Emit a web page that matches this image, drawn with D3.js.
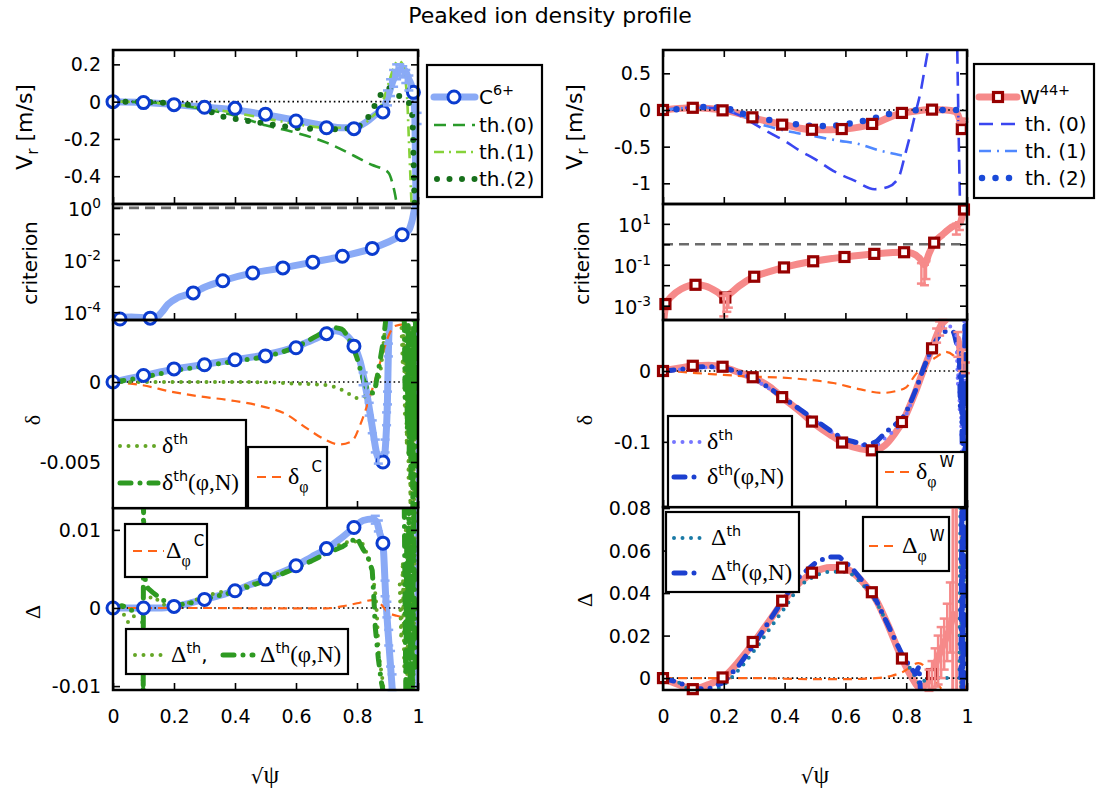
<!DOCTYPE html>
<html><head><meta charset="utf-8">
<script src="https://cdn.jsdelivr.net/npm/d3@7"></script>
<style>body{margin:0;background:#fff}svg{display:block}</style>
</head><body><svg id="c" width="1097" height="795"></svg>
<script>
// ---------------- DATA ----------------
const xTicks = [0, 0.2, 0.4, 0.6, 0.8, 1];
const xTickLabels = ["0", "0.2", "0.4", "0.6", "0.8", "1"];

// Left column: C6+
const cMarkX = [0, 0.1, 0.2, 0.3, 0.4, 0.5, 0.6, 0.7, 0.79, 0.885, 0.985];
const cVrMark = [0, -0.005, -0.016, -0.03, -0.036, -0.067, -0.104, -0.14, -0.145, -0.055, 0.05];
const cVrLine = [[0,0],[0.1,-0.004],[0.2,-0.015],[0.3,-0.03],[0.4,-0.045],[0.5,-0.07],[0.6,-0.1],[0.7,-0.13],[0.75,-0.14],[0.79,-0.14],[0.83,-0.11],[0.86,-0.07],[0.885,-0.04],[0.9,0.02],[0.92,0.12],[0.94,0.17],[0.955,0.17],[0.97,0.12],[0.985,0.05],[0.99,-0.1],[0.994,-0.6]];
const cVrErr = [[0.9,-0.02,0.06],[0.91,0.03,0.12],[0.92,0.08,0.17],[0.93,0.12,0.2],[0.94,0.14,0.2],[0.95,0.13,0.19],[0.96,0.1,0.17],[0.97,0.06,0.14],[0.997,-0.12,-0.06]];
const cVrTh0 = [[0,0],[0.1,-0.003],[0.2,-0.015],[0.3,-0.04],[0.4,-0.075],[0.5,-0.127],[0.6,-0.167],[0.7,-0.22],[0.79,-0.29],[0.85,-0.34],[0.883,-0.36],[0.905,-0.385],[0.915,-0.43],[0.925,-0.5],[0.935,-0.6]];
const cVrTh1 = [[0,0],[0.1,-0.003],[0.2,-0.015],[0.3,-0.035],[0.4,-0.06],[0.5,-0.09],[0.6,-0.12],[0.7,-0.14],[0.79,-0.14],[0.85,-0.08],[0.88,-0.02],[0.9,0.08],[0.92,0.18],[0.935,0.22],[0.95,0.2],[0.96,0.1],[0.965,0],[0.97,-0.2],[0.975,-0.4],[0.98,-0.6]];
const cVrTh2 = [[0,0],[0.05,0],[0.1,-0.002],[0.15,-0.005],[0.2,-0.01],[0.24,-0.015],[0.28,-0.035],[0.32,-0.055],[0.36,-0.08],[0.41,-0.095],[0.45,-0.105],[0.5,-0.118],[0.55,-0.13],[0.6,-0.14],[0.64,-0.145],[0.68,-0.148],[0.72,-0.148],[0.76,-0.145],[0.8,-0.135],[0.84,-0.075],[0.86,-0.015],[0.9,0.075],[0.935,0.033],[0.965,0.005],[0.98,-0.06],[0.984,-0.2],[0.986,-0.35],[0.988,-0.5],[0.989,-0.56]];

const cCritMarkX = [0.023, 0.122, 0.263, 0.36, 0.458, 0.557, 0.655, 0.752, 0.85, 0.948];
const cCritMark = [5.5e-5, 5.9e-5, 5.5e-4, 1.6e-3, 3.2e-3, 5.0e-3, 8.3e-3, 1.4e-2, 2.8e-2, 9.3e-2];
const cCritLine = [[0,6.2e-5],[0.06,6.6e-5],[0.122,6.0e-5],[0.14,6.2e-5],[0.16,1.0e-4],[0.18,2.0e-4],[0.21,3.5e-4],[0.24,4.6e-4],[0.263,5.5e-4],[0.3,9e-4],[0.36,1.6e-3],[0.458,3.2e-3],[0.557,5.0e-3],[0.655,8.3e-3],[0.752,1.4e-2],[0.85,2.8e-2],[0.948,9.3e-2],[0.97,0.14],[0.98,0.3],[0.99,1.0],[1.0,1.6]];
const cCritThreshold = 1;

const cDeltaMarkX = [0, 0.1, 0.2, 0.3, 0.4, 0.5, 0.6, 0.7, 0.79, 0.885];
const cDeltaMark = [0, 0.00041, 0.00082, 0.00108, 0.00139, 0.00163, 0.00214, 0.00302, 0.00224, -0.005];
const cDeltaLine = [[0,0],[0.05,0.0002],[0.1,0.0004],[0.2,0.0008],[0.3,0.0011],[0.4,0.0014],[0.5,0.0017],[0.6,0.0022],[0.65,0.0026],[0.7,0.003],[0.73,0.0032],[0.76,0.003],[0.79,0.0023],[0.81,0.0013],[0.83,-0.0005],[0.85,-0.0028],[0.865,-0.0045],[0.885,-0.0052],[0.895,-0.0035],[0.9,-0.001],[0.903,0.002],[0.906,0.0039]];
const cDeltaEdge = [[0.996,0.0039],[0.997,-0.002],[0.999,-0.008]];
const cDeltaErr = [[0.82,-0.0002,0.0006],[0.83,-0.0009,-0.0001],[0.84,-0.0021,-0.0013],[0.85,-0.0032,-0.0024],[0.86,-0.0044,-0.0036],[0.87,-0.0051,-0.0045],[0.892,-0.0044,-0.0036],[0.897,-0.0027,-0.0019],[0.9,-0.0014,-0.0006],[0.903,0.0016,0.0024]];
const cDeltaTh = [[0,0],[0.1,0],[0.2,0],[0.3,0],[0.4,0],[0.5,-0.00002],[0.6,-0.0001],[0.7,-0.0002],[0.74,-0.0004],[0.77,-0.0007],[0.8,-0.001],[0.836,-0.0008],[0.86,-0.0003],[0.877,0.0007],[0.888,0.0026],[0.895,0.004]];
const cDeltaThN = [[0,0],[0.1,0.0003],[0.2,0.0007],[0.3,0.001],[0.4,0.0013],[0.5,0.0016],[0.6,0.0022],[0.67,0.0029],[0.72,0.0034],[0.75,0.0033],[0.77,0.0028],[0.8,0.0015],[0.82,0.0002],[0.84,-0.0006],[0.855,-0.0007],[0.865,0.0002],[0.877,0.0015],[0.889,0.003],[0.895,0.004]];
const cDeltaThNoise = [[0.945,0.0039],[0.95,0.001],[0.953,0.0039],[0.957,-0.002],[0.96,0.003],[0.963,-0.004],[0.966,0.002],[0.969,-0.006],[0.972,0.001],[0.975,-0.008],[0.978,0.0035],[0.981,-0.005],[0.984,0.002],[0.987,-0.008],[0.99,0.0039]];
const cDeltaThNNoise = [[0.955,0.0039],[0.958,-0.001],[0.962,0.0035],[0.965,-0.003],[0.968,0.0038],[0.971,-0.0045],[0.974,0.002],[0.977,-0.006],[0.98,0.003],[0.983,-0.008],[0.986,0.0039],[0.989,-0.003],[0.992,0.0039],[0.995,-0.008]];
const cDeltaPhi = [[0,0],[0.096,-0.0002],[0.19,-0.0006],[0.284,-0.0009],[0.39,-0.00116],[0.484,-0.0015],[0.566,-0.002],[0.636,-0.0029],[0.695,-0.0036],[0.742,-0.0039],[0.783,-0.0037],[0.812,-0.0026],[0.836,-0.0013],[0.859,0.0001],[0.883,0.0017],[0.906,0.003],[0.924,0.0035],[0.953,0.0036],[0.965,0.003],[0.975,0.001],[0.99,0]];

const cBigDeltaMarkX = [0, 0.1, 0.2, 0.3, 0.4, 0.5, 0.6, 0.7, 0.79, 0.885];
const cBigDeltaMark = [0, 0, 0.0002, 0.0011, 0.0022, 0.0037, 0.0054, 0.0076, 0.0103, 0.0083];
const cBigDeltaLine = [[0,0],[0.1,0],[0.15,0],[0.2,0.0002],[0.25,0.0006],[0.3,0.0011],[0.35,0.0016],[0.4,0.0022],[0.45,0.003],[0.5,0.0037],[0.55,0.0045],[0.6,0.0054],[0.65,0.0065],[0.7,0.0076],[0.75,0.009],[0.79,0.0103],[0.82,0.0112],[0.85,0.0114],[0.865,0.011],[0.875,0.0095],[0.885,0.0083],[0.894,0.0016],[0.906,-0.0053],[0.918,-0.0117]];
const cBigDeltaEdge = [[0.992,0.013],[0.994,0],[0.996,-0.011]];
const cBigDeltaErr = [[0.86,0.0108,0.0118],[0.87,0.0098,0.0112],[0.892,0.0015,0.0035],[0.898,-0.0012,0.0008],[0.904,-0.0048,-0.0028],[0.91,-0.0075,-0.0055],[0.915,-0.0105,-0.0085]];
const cBigDeltaTh = [[0,0],[0.02,0.0003],[0.05,-0.0018],[0.08,-0.0005],[0.1,0],[0.13,0.0015],[0.16,0.0005],[0.2,0.0002],[0.25,0.0007],[0.3,0.0015],[0.35,0.002],[0.4,0.0025],[0.45,0.003],[0.5,0.0037],[0.55,0.0045],[0.6,0.0051],[0.65,0.006],[0.7,0.007],[0.75,0.0082],[0.79,0.0085],[0.81,0.0085],[0.835,0.0066],[0.85,0.0044],[0.865,-0.0007],[0.87,-0.0048],[0.883,-0.009],[0.89,-0.0115]];
const cBigDeltaThN = [[0,0],[0.03,0.0003],[0.06,-0.0003],[0.09,0],[0.097,0.0003],[0.099,-0.012],[0.1,0.013],[0.103,0.004],[0.115,0.0025],[0.13,0.002],[0.16,0.0011],[0.2,0.0003],[0.25,0.0006],[0.3,0.0011],[0.35,0.0016],[0.4,0.0021],[0.45,0.0028],[0.5,0.0035],[0.55,0.0043],[0.6,0.0051],[0.65,0.006],[0.7,0.007],[0.75,0.0078],[0.8,0.009],[0.82,0.0075],[0.835,0.0066],[0.85,0.0048],[0.855,0.0015],[0.86,-0.0025],[0.87,-0.0065],[0.88,-0.0095],[0.89,-0.0115]];
const cBigDeltaThNoise = [[0.94,0.003],[0.945,-0.004],[0.95,0.006],[0.955,-0.008],[0.96,0.01],[0.965,-0.0105],[0.97,0.013],[0.975,-0.006],[0.98,0.012],[0.985,-0.0105],[0.99,0.013]];
const cBigDeltaThNNoise = [[0.955,0.013],[0.96,-0.0105],[0.963,0.008],[0.966,-0.004],[0.97,0.013],[0.974,-0.0105],[0.978,0.01],[0.982,-0.0105],[0.986,0.013],[0.99,-0.008]];
const cBigDeltaPhi = [[0,0],[0.3,0],[0.5,-0.00005],[0.7,-0.00005],[0.75,0.0002],[0.8,0.0006],[0.85,0.001],[0.875,0.0006],[0.9,-0.0005],[0.93,-0.001],[0.96,-0.0012],[0.99,-0.0005],[1.0,0]];

// Right column: W44+
const wMarkX = [0, 0.098, 0.196, 0.294, 0.392, 0.49, 0.588, 0.688, 0.786, 0.885, 0.983];
const wVrMark = [0, 0.03, -0.005, -0.1, -0.2, -0.27, -0.26, -0.19, -0.04, 0.005, -0.26];
const wVrLine = [[0,0],[0.05,0.02],[0.1,0.03],[0.15,0.02],[0.2,-0.005],[0.25,-0.05],[0.3,-0.11],[0.35,-0.16],[0.4,-0.2],[0.45,-0.25],[0.5,-0.27],[0.55,-0.27],[0.6,-0.26],[0.65,-0.23],[0.7,-0.18],[0.75,-0.09],[0.79,-0.04],[0.84,-0.01],[0.885,0.005],[0.93,0],[0.96,-0.02],[0.975,-0.12],[0.983,-0.26]];
const wVrErr = [[0.98,-0.17,-0.12],[0.99,-0.16,-0.12]];
const wVrTh0 = [[0,0],[0.05,0.02],[0.1,0.035],[0.15,0.03],[0.2,0],[0.25,-0.07],[0.3,-0.19],[0.35,-0.31],[0.4,-0.42],[0.448,-0.55],[0.5,-0.67],[0.56,-0.83],[0.628,-0.96],[0.696,-1.08],[0.74,-1.05],[0.775,-0.92],[0.797,-0.6],[0.814,-0.33],[0.83,-0.05],[0.848,0.26],[0.86,0.54],[0.872,0.82]];
const wVrTh0Edge = [[0.968,0.82],[0.972,-0.2],[0.977,-1.3]];
const wVrTh1 = [[0,0],[0.05,0.02],[0.1,0.03],[0.15,0.03],[0.2,0],[0.25,-0.05],[0.29,-0.145],[0.36,-0.24],[0.436,-0.31],[0.49,-0.35],[0.54,-0.39],[0.58,-0.42],[0.64,-0.46],[0.71,-0.55],[0.786,-0.62]];
const wVrTh2 = [[0,0],[0.05,0.01],[0.1,0.03],[0.14,0.04],[0.19,0.03],[0.23,0],[0.273,-0.064],[0.318,-0.11],[0.363,-0.145],[0.408,-0.18],[0.453,-0.2],[0.498,-0.22],[0.543,-0.22],[0.588,-0.2],[0.634,-0.17],[0.679,-0.13],[0.724,-0.077],[0.769,-0.03],[0.808,-0.01],[0.85,0],[0.9,0],[0.95,0],[0.995,0]];

const wCritMarkX = [0.008, 0.107, 0.205, 0.3, 0.398, 0.494, 0.597, 0.695, 0.793, 0.892, 0.99];
const wCritMark = [1.2e-3, 1.05e-2, 2.5e-3, 2.6e-2, 7.4e-2, 0.148, 0.24, 0.34, 0.41, 1.2, 50];
const wCritLine = [[0.003,2.2e-4],[0.01,1.2e-3],[0.03,3e-3],[0.06,6.5e-3],[0.107,1.05e-2],[0.14,9e-3],[0.18,4.5e-3],[0.205,2.5e-3],[0.22,3.8e-3],[0.25,9e-3],[0.3,2.6e-2],[0.35,4.6e-2],[0.398,7.4e-2],[0.494,0.148],[0.597,0.24],[0.695,0.34],[0.793,0.41],[0.82,0.36],[0.845,0.2],[0.86,0.1],[0.875,0.35],[0.892,1.2],[0.92,3],[0.95,7],[0.977,11],[0.99,50],[1.0,90]];
const wCritErr = [[0.2,3e-4,3e-3],[0.21,5e-4,4e-3],[0.215,8e-4,4e-3],[0.85,0.012,0.12],[0.86,0.01,0.1],[0.865,0.02,0.15],[0.965,3,10],[0.975,5,12]];
const wCritThreshold = 1;

const wDeltaMarkX = [0, 0.098, 0.196, 0.295, 0.392, 0.49, 0.589, 0.687, 0.786, 0.885];
const wDeltaMark = [0, 0.0074, 0.006, -0.0088, -0.0369, -0.0714, -0.101, -0.112, -0.072, 0.032];
const wDeltaLine = [[0,0],[0.05,0.004],[0.1,0.007],[0.15,0.008],[0.2,0.005],[0.25,-0.002],[0.3,-0.01],[0.35,-0.022],[0.4,-0.04],[0.45,-0.057],[0.5,-0.075],[0.55,-0.09],[0.6,-0.103],[0.65,-0.11],[0.69,-0.112],[0.73,-0.105],[0.76,-0.09],[0.79,-0.07],[0.83,-0.03],[0.86,0.005],[0.885,0.032],[0.9,0.05],[0.915,0.065],[0.93,0.072]];
const wDeltaEdge = [[0.97,0.045],[0.978,0.03],[0.985,0.02],[0.992,0.005],[1.0,0]];
const wDeltaErr = [[0.9,0.04,0.06],[0.91,0.05,0.07],[0.92,0.06,0.072],[0.97,0.02,0.055],[0.985,0.0,0.03],[0.995,-0.003,0.012]];
const wDeltaTh = [[0,0],[0.05,0.002],[0.1,0.004],[0.15,0.005],[0.2,0.004],[0.25,-0.003],[0.3,-0.012],[0.35,-0.025],[0.4,-0.04],[0.45,-0.055],[0.5,-0.07],[0.55,-0.085],[0.6,-0.097],[0.65,-0.104],[0.69,-0.108],[0.72,-0.098],[0.75,-0.088],[0.79,-0.07],[0.83,-0.03],[0.86,0.005],[0.885,0.03],[0.91,0.055],[0.935,0.065],[0.95,0.06],[0.96,0.045]];
const wDeltaThN = [[0,0],[0.05,0.002],[0.1,0.005],[0.15,0.006],[0.2,0.004],[0.25,-0.002],[0.3,-0.011],[0.35,-0.024],[0.4,-0.039],[0.45,-0.054],[0.5,-0.069],[0.55,-0.084],[0.6,-0.097],[0.63,-0.1],[0.66,-0.104],[0.7,-0.1],[0.72,-0.092],[0.75,-0.08],[0.79,-0.065],[0.83,-0.028],[0.86,0.007],[0.885,0.032],[0.91,0.05],[0.94,0.057],[0.955,0.055],[0.965,0.04],[0.975,0.02]];
const wDeltaThNoise = [[0.965,0.05],[0.97,-0.02],[0.973,0.03],[0.976,-0.06],[0.979,0.0],[0.982,-0.12],[0.985,-0.03],[0.988,-0.19],[0.991,0.07],[0.994,-0.19]];
const wDeltaThNNoise = [[0.975,0.02],[0.978,-0.05],[0.981,0.0],[0.984,-0.1],[0.987,-0.04],[0.99,-0.19],[0.993,0.07],[0.996,-0.19]];
const wDeltaPhi = [[0,0],[0.05,-0.001],[0.11,-0.003],[0.2,-0.0055],[0.29,-0.008],[0.38,-0.009],[0.47,-0.012],[0.56,-0.017],[0.65,-0.026],[0.72,-0.031],[0.76,-0.029],[0.8,-0.023],[0.83,-0.0055],[0.865,0.009],[0.9,0.02],[0.93,0.027],[0.955,0.022],[0.97,0.013],[0.985,0.008],[1.0,0.004]];

const wBigDeltaMarkX = [0, 0.098, 0.196, 0.295, 0.392, 0.49, 0.589, 0.687, 0.786, 0.885];
const wBigDeltaMark = [0, -0.0052, 0.0003, 0.017, 0.0364, 0.0496, 0.052, 0.0404, 0.0092, 0.0019];
const wBigDeltaLine = [[0,0],[0.05,-0.003],[0.1,-0.005],[0.15,-0.003],[0.2,0.0005],[0.25,0.008],[0.3,0.017],[0.35,0.027],[0.4,0.037],[0.45,0.045],[0.5,0.05],[0.55,0.052],[0.59,0.052],[0.63,0.049],[0.67,0.043],[0.7,0.037],[0.74,0.025],[0.786,0.0092],[0.82,0.0],[0.845,-0.0045],[0.865,-0.003],[0.885,0.0019],[0.9,0.008],[0.92,0.015],[0.94,0.022],[0.955,0.03]];
const wBigDeltaEdge = [[0.953,-0.006],[0.954,0.081],[0.965,0.081],[0.966,-0.006],[0.979,-0.006],[0.98,0.081]];
const wBigDeltaErr = [[0.875,-0.006,0.004],[0.885,-0.005,0.008],[0.895,-0.004,0.014],[0.905,-0.003,0.02],[0.915,0.0,0.024],[0.925,0.004,0.028],[0.935,0.008,0.035],[0.945,0.012,0.045]];
const wBigDeltaTh = [[0,0],[0.05,-0.002],[0.1,-0.006],[0.15,-0.006],[0.2,-0.003],[0.25,0.004],[0.3,0.013],[0.35,0.023],[0.4,0.033],[0.45,0.043],[0.5,0.048],[0.55,0.05],[0.6,0.05],[0.65,0.045],[0.7,0.036],[0.75,0.022],[0.79,0.01],[0.82,0.003],[0.85,-0.003],[0.87,0.001],[0.9,0.0],[0.94,0.0]];
const wBigDeltaThN = [[0,0],[0.05,-0.002],[0.1,-0.005],[0.15,-0.005],[0.2,-0.002],[0.25,0.006],[0.3,0.016],[0.35,0.027],[0.4,0.038],[0.45,0.048],[0.5,0.054],[0.54,0.057],[0.58,0.057],[0.62,0.052],[0.66,0.045],[0.7,0.037],[0.75,0.022],[0.79,0.01],[0.83,0.002],[0.842,0.0055],[0.848,-0.0087]];
const wBigDeltaThNoise = [[0.975,0.0],[0.978,0.08],[0.981,-0.005],[0.984,0.08],[0.987,0.0],[0.99,0.06]];
const wBigDeltaThNNoise = [[0.98,0.0],[0.983,0.08],[0.986,-0.005],[0.989,0.08],[0.992,0.0]];
const wBigDeltaPhi = [[0,0],[0.1,0],[0.2,0],[0.3,0],[0.4,-0.0003],[0.5,-0.0005],[0.6,-0.0005],[0.7,0],[0.75,0.001],[0.79,0.003],[0.84,0.007],[0.87,0.004],[0.89,-0.001],[0.91,-0.004],[0.93,-0.008],[0.945,-0.011],[0.97,-0.011],[0.985,-0.008],[1.0,-0.003]];

// y ticks / labels
const lVrTicks = [0.2, 0, -0.2, -0.4], lVrLabels = ["0.2", "0", "-0.2", "-0.4"];
const lCritTicks = [1, 0.1, 0.01, 0.001, 1e-4], lCritLabelVals = [1, 0.01, 1e-4], lCritExp = ["0", "-2", "-4"];
const lDeltaTicks = [0, -0.005], lDeltaLabels = ["0", "-0.005"];
const lBigTicks = [0.01, 0, -0.01], lBigLabels = ["0.01", "0", "-0.01"];
const rVrTicks = [0.5, 0, -0.5, -1], rVrLabels = ["0.5", "0", "-0.5", "-1"];
const rCritTicks = [10, 1, 0.1, 0.01, 0.001], rCritLabelVals = [10, 0.1, 0.001], rCritExp = ["1", "-1", "-3"];
const rDeltaTicks = [0, -0.1], rDeltaLabels = ["0", "-0.1"];
const rBigTicks = [0.08, 0.06, 0.04, 0.02, 0], rBigLabels = ["0.08", "0.06", "0.04", "0.02", "0"];

// ---------------- STYLE ----------------
const SANS = "DejaVu Sans, Verdana, sans-serif";
const SERIF = "Liberation Serif, Times New Roman, serif";
const C_MARK = "#0b3ccf", C_LINE = "#8aaaf6";
const G_TH0 = "#2a9a2a", G_TH1 = "#86d23a", G_TH2 = "#17701b";
const G_DTH = "#64a626", G_DTHN = "#2e9a22", ORANGE = "#ff6418";
const W_MARK = "#960000", W_LINE = "#f68a8a";
const B_TH0 = "#3a46f0", B_TH1 = "#4f88ff", B_TH2 = "#1a4ad8";
const B_DTH = "#7676ff", B_DTHN = "#1c40d0", T_DTH = "#1a7aa6";

const svg = d3.select("#c");
svg.append("rect").attr("width", 1097).attr("height", 795).attr("fill", "#fff");

const cols = { L: { x0: 113, x1: 418, lab: 101 }, R: { x0: 663, x1: 967, lab: 651 } };
const rowsL = [[50, 204], [204, 320], [320, 508], [508, 690]];
const rowsR = [[50, 204], [204, 320], [320, 507], [507, 690]];

let clipN = 0;
function panel(col, rows, i, dom, log) {
  const c = cols[col], [t, b] = rows[i];
  const x = d3.scaleLinear().domain([0, 1]).range([c.x0, c.x1]);
  const y = (log ? d3.scaleLog() : d3.scaleLinear()).domain(dom).range([b, t]);
  const id = "cl" + (clipN++);
  svg.append("clipPath").attr("id", id).append("rect").attr("x", c.x0).attr("y", t).attr("width", c.x1 - c.x0).attr("height", b - t);
  const g = svg.append("g");
  const plot = g.append("g").attr("clip-path", `url(#${id})`);
  const top = g.append("g");
  return { x, y, g, plot, top, t, b, c };
}

function line(p, data, st) {
  const gen = d3.line().x(d => p.x(d[0])).y(d => p.y(d[1])).curve(st.curve || d3.curveMonotoneX);
  p.plot.append("path").attr("d", gen(data)).attr("fill", "none").attr("stroke", st.color)
    .attr("stroke-width", st.w).attr("stroke-dasharray", st.dash || null)
    .attr("stroke-linecap", st.cap || "butt").attr("stroke-linejoin", "round");
}
function errs(p, data, color, w) {
  const gg = p.g.append("g").attr("stroke", color).attr("stroke-width", w || 2);
  data.forEach(d => {
    const xx = p.x(d[0]), y1 = p.y(d[1]), y2 = p.y(d[2]);
    gg.append("line").attr("x1", xx).attr("x2", xx).attr("y1", y1).attr("y2", y2);
    gg.append("line").attr("x1", xx - 4.5).attr("x2", xx + 4.5).attr("y1", y1).attr("y2", y1);
    gg.append("line").attr("x1", xx - 4.5).attr("x2", xx + 4.5).attr("y1", y2).attr("y2", y2);
  });
}
function zeroLine(p) {
  p.plot.append("line").attr("x1", p.x(0)).attr("x2", p.x(0.995)).attr("y1", p.y(0)).attr("y2", p.y(0))
    .attr("stroke", "#000").attr("stroke-width", 1.6).attr("stroke-dasharray", "1.6 3");
}
function circles(p, xs, ys) {
  p.top.selectAll(null).data(xs).enter().append("circle")
    .attr("cx", (d) => p.x(d)).attr("cy", (d, i) => p.y(ys[i])).attr("r", 6)
    .attr("fill", "#fff").attr("stroke", C_MARK).attr("stroke-width", 3);
}
function squares(p, xs, ys) {
  p.top.selectAll(null).data(xs).enter().append("rect")
    .attr("x", (d) => p.x(d) - 4.5).attr("y", (d, i) => p.y(ys[i]) - 4.5).attr("width", 9).attr("height", 9)
    .attr("fill", "#fff").attr("stroke", W_MARK).attr("stroke-width", 3.2);
}
function rich(g, x, y, parts, size, anchor) {
  const t = g.append("text").attr("x", x).attr("y", y + 0.36 * size).attr("font-size", size)
    .attr("font-family", SANS).attr("fill", "#000").attr("text-anchor", anchor || "start");
  let cur = 0;
  parts.forEach(pt => {
    const off = (pt.off || 0);
    t.append("tspan").text(pt.t).attr("font-size", size * (pt.r || 1))
      .attr("font-family", pt.g ? SERIF : SANS).attr("dy", off - cur).attr("dx", pt.dx || 0);
    cur = off;
  });
  return t;
}
function axes(p, yTicks, yLabels, opt) {
  const { x, y, g, t, b, c } = p;
  const tk = s => s.call(a => a.select(".domain").remove()).selectAll("line").attr("stroke", "#000").attr("stroke-width", 1.6);
  const bx = g.append("g").attr("transform", `translate(0,${b})`)
    .call(d3.axisBottom(x).tickValues(xTicks).tickSizeInner(-7).tickSizeOuter(0).tickPadding(20)
      .tickFormat(opt.xlabels ? ((d, i) => xTickLabels[i]) : ""));
  tk(bx);
  bx.selectAll("text").attr("font-size", 19).attr("font-family", SANS).attr("fill", "#000");
  if (opt.topTicks) {
    tk(g.append("g").attr("transform", `translate(0,${t})`).call(d3.axisTop(x).tickValues(xTicks).tickSizeInner(-7).tickSizeOuter(0).tickFormat("")));
  }
  tk(g.append("g").attr("transform", `translate(${c.x0},0)`).call(d3.axisLeft(y).tickValues(yTicks).tickSizeInner(-7).tickSizeOuter(0).tickFormat("")));
  tk(g.append("g").attr("transform", `translate(${c.x1},0)`).call(d3.axisRight(y).tickValues(yTicks).tickSizeInner(-7).tickSizeOuter(0).tickFormat("")));
  g.append("rect").attr("x", c.x0).attr("y", t).attr("width", c.x1 - c.x0).attr("height", b - t)
    .attr("fill", "none").attr("stroke", "#000").attr("stroke-width", 2.5);
  if (opt.logLabels) {
    opt.logLabels.vals.forEach((v, i) => {
      rich(g, c.lab, y(v) + 1, [{ t: "10" }, { t: opt.logLabels.exp[i], r: 0.72, off: -8 }], 19, "end");
    });
  } else {
    yTicks.forEach((v, i) => {
      g.append("text").attr("x", c.lab).attr("y", y(v) + 7).attr("text-anchor", "end")
        .attr("font-size", 19).attr("font-family", SANS).text(yLabels[i]);
    });
  }
}
function ylabel(cx, cy, parts, size) {
  const g = svg.append("g").attr("transform", `translate(${cx},${cy}) rotate(-90)`);
  rich(g, 0, 0, parts, size || 20, "middle");
}
function legendBox(x0, y0, x1, y1) {
  svg.append("rect").attr("x", x0).attr("y", y0).attr("width", x1 - x0).attr("height", y1 - y0)
    .attr("fill", "#fff").attr("stroke", "#000").attr("stroke-width", 2.2);
}
function legLine(x0, x1, y, st) {
  svg.append("line").attr("x1", x0).attr("x2", x1).attr("y1", y).attr("y2", y).attr("stroke", st.color)
    .attr("stroke-width", st.w).attr("stroke-dasharray", st.dash || null).attr("stroke-linecap", st.cap || "butt");
}

// line styles
const S = {
  cMain: { color: C_LINE, w: 7, cap: "round" },
  wMain: { color: W_LINE, w: 7, cap: "round" },
  gTh0: { color: G_TH0, w: 2.6, dash: "12 7" },
  gTh1: { color: G_TH1, w: 2.6, dash: "10 5 2 5" },
  gTh2: { color: G_TH2, w: 6, dash: "0 12.5", cap: "round" },
  gDth: { color: G_DTH, w: 4, dash: "0 8.5", cap: "round" },
  gDthN: { color: G_DTHN, w: 5, dash: "11 9 0 9", cap: "round" },
  orange: { color: ORANGE, w: 2.2, dash: "9 6" },
  bTh0: { color: B_TH0, w: 2.6, dash: "14 8" },
  bTh1: { color: B_TH1, w: 2.6, dash: "12 6 2 6" },
  bTh2: { color: B_TH2, w: 6.5, dash: "0 13.5", cap: "round" },
  bDth: { color: B_DTH, w: 4, dash: "0 8.5", cap: "round" },
  bDthN: { color: B_DTHN, w: 5, dash: "11 9 0 9", cap: "round" },
  tDth: { color: T_DTH, w: 4, dash: "0 8.5", cap: "round" },
  gray: { color: "#6b6b6b", w: 2.6, dash: "10 6" }
};
const lin = Object.assign;

// ---------------- TITLE ----------------
svg.append("text").attr("x", 550).attr("y", 23).attr("text-anchor", "middle").attr("font-size", 22)
  .attr("font-family", SANS).text("Peaked ion density profile");

// ================= LEFT COLUMN =================
{
  const p = panel("L", rowsL, 0, [-0.549, 0.277]);
  line(p, cVrLine, S.cMain);
  errs(p, cVrErr, C_LINE, 2.5);
  zeroLine(p);
  line(p, cVrTh0, S.gTh0);
  line(p, cVrTh1, S.gTh1);
  line(p, cVrTh2, S.gTh2);
  circles(p, cMarkX, cVrMark);
  axes(p, lVrTicks, lVrLabels, { topTicks: true });
}
{
  const p = panel("L", rowsL, 1, [Math.pow(10, -4.3), Math.pow(10, 0.15)], true);
  p.plot.append("line").attr("x1", p.x(0)).attr("x2", p.x(1)).attr("y1", p.y(cCritThreshold)).attr("y2", p.y(cCritThreshold))
    .attr("stroke", S.gray.color).attr("stroke-width", S.gray.w).attr("stroke-dasharray", S.gray.dash);
  line(p, cCritLine, S.cMain);
  circles(p, cCritMarkX, cCritMark);
  axes(p, lCritTicks, null, { logLabels: { vals: lCritLabelVals, exp: lCritExp } });
}
{
  const p = panel("L", rowsL, 2, [-0.007875, 0.003875]);
  line(p, cDeltaLine, S.cMain);
  line(p, cDeltaEdge, lin({}, S.cMain, { w: 3, curve: d3.curveLinear }));
  errs(p, cDeltaErr, C_LINE, 2.5);
  zeroLine(p);
  line(p, cDeltaPhi, S.orange);
  line(p, cDeltaTh, S.gDth);
  line(p, cDeltaThN, S.gDthN);
  line(p, cDeltaThNoise, lin({}, S.gDth, { curve: d3.curveLinear }));
  line(p, cDeltaThNNoise, lin({}, S.gDthN, { curve: d3.curveLinear }));
  circles(p, cDeltaMarkX, cDeltaMark);
  axes(p, lDeltaTicks, lDeltaLabels, {});
}
{
  const p = panel("L", rowsL, 3, [-0.0105, 0.0128]);
  line(p, cBigDeltaLine, S.cMain);
  line(p, cBigDeltaEdge, lin({}, S.cMain, { w: 3, curve: d3.curveLinear }));
  errs(p, cBigDeltaErr, C_LINE, 2.5);
  zeroLine(p);
  line(p, cBigDeltaPhi, S.orange);
  line(p, cBigDeltaTh, S.gDth);
  line(p, cBigDeltaThN, lin({}, S.gDthN, { curve: d3.curveLinear }));
  line(p, cBigDeltaThNoise, lin({}, S.gDth, { curve: d3.curveLinear }));
  line(p, cBigDeltaThNNoise, lin({}, S.gDthN, { curve: d3.curveLinear }));
  circles(p, cBigDeltaMarkX, cBigDeltaMark);
  axes(p, lBigTicks, lBigLabels, { xlabels: true });
}

// ================= RIGHT COLUMN =================
{
  const p = panel("R", rowsR, 0, [-1.282, 0.818]);
  line(p, wVrLine, S.wMain);
  errs(p, wVrErr, W_LINE, 2.5);
  zeroLine(p);
  line(p, wVrTh0, S.bTh0);
  line(p, wVrTh0Edge, lin({}, S.bTh0, { curve: d3.curveLinear }));
  line(p, wVrTh1, S.bTh1);
  line(p, wVrTh2, S.bTh2);
  squares(p, wMarkX, wVrMark);
  axes(p, rVrTicks, rVrLabels, { topTicks: true });
}
{
  const p = panel("R", rowsR, 1, [Math.pow(10, -3.7), Math.pow(10, 1.97)], true);
  p.plot.append("line").attr("x1", p.x(0)).attr("x2", p.x(1)).attr("y1", p.y(wCritThreshold)).attr("y2", p.y(wCritThreshold))
    .attr("stroke", S.gray.color).attr("stroke-width", S.gray.w).attr("stroke-dasharray", S.gray.dash);
  line(p, wCritLine, S.wMain);
  errs(p, wCritErr, W_LINE, 2.5);
  squares(p, wCritMarkX, wCritMark);
  axes(p, rCritTicks, null, { logLabels: { vals: rCritLabelVals, exp: rCritExp } });
}
{
  const p = panel("R", rowsR, 2, [-0.192, 0.072]);
  line(p, wDeltaLine, S.wMain);
  line(p, wDeltaEdge, S.wMain);
  errs(p, wDeltaErr, W_LINE, 2.5);
  zeroLine(p);
  line(p, wDeltaPhi, S.orange);
  line(p, wDeltaTh, S.bDth);
  line(p, wDeltaThN, S.bDthN);
  line(p, wDeltaThNoise, lin({}, S.bDth, { curve: d3.curveLinear }));
  line(p, wDeltaThNNoise, lin({}, S.bDthN, { curve: d3.curveLinear }));
  squares(p, wDeltaMarkX, wDeltaMark);
  axes(p, rDeltaTicks, rDeltaLabels, {});
}
{
  const p = panel("R", rowsR, 3, [-0.0056, 0.0805]);
  line(p, wBigDeltaLine, S.wMain);
  line(p, wBigDeltaEdge, lin({}, S.wMain, { w: 3, curve: d3.curveLinear }));
  errs(p, wBigDeltaErr, W_LINE, 2.5);
  zeroLine(p);
  line(p, wBigDeltaPhi, S.orange);
  line(p, wBigDeltaTh, S.tDth);
  line(p, wBigDeltaThN, lin({}, S.bDthN, { curve: d3.curveLinear }));
  line(p, wBigDeltaThNoise, lin({}, S.tDth, { curve: d3.curveLinear }));
  line(p, wBigDeltaThNNoise, lin({}, S.bDthN, { curve: d3.curveLinear }));
  squares(p, wBigDeltaMarkX, wBigDeltaMark);
  axes(p, rBigTicks, rBigLabels, { xlabels: true });
}

// ---------------- AXIS TITLES ----------------
const vrParts = [{ t: "V" }, { t: "r", r: 0.7, off: 6 }, { t: " [m/s]" }];
ylabel(24, 127, vrParts, 22);
ylabel(30, 263, [{ t: "criterion" }], 20);
ylabel(32, 420, [{ t: "δ", g: true }], 22);
ylabel(32, 612, [{ t: "Δ", g: true }], 22);
ylabel(574, 127, vrParts, 22);
ylabel(582, 263, [{ t: "criterion" }], 20);
ylabel(584, 420, [{ t: "δ", g: true }], 22);
ylabel(584, 600, [{ t: "Δ", g: true }], 22);
rich(svg, 265, 776, [{ t: "√" }, { t: "ψ", g: true, r: 1.25 }], 20, "middle");
rich(svg, 815, 776, [{ t: "√" }, { t: "ψ", g: true, r: 1.25 }], 20, "middle");

// ---------------- LEGENDS ----------------
const sup = (t) => ({ t, r: 0.72, off: -9 });
legendBox(427, 65, 542, 197);
legLine(434, 475, 97, S.cMain);
svg.append("circle").attr("cx", 454).attr("cy", 97).attr("r", 6).attr("fill", "#fff").attr("stroke", C_MARK).attr("stroke-width", 3);
rich(svg, 479, 97, [{ t: "C" }, sup("6+")], 20);
legLine(434, 475, 125, S.gTh0); rich(svg, 479, 125, [{ t: "th.(0)" }], 20);
legLine(434, 475, 152, S.gTh1); rich(svg, 479, 152, [{ t: "th.(1)" }], 20);
legLine(437, 475, 179, S.gTh2); rich(svg, 479, 179, [{ t: "th.(2)" }], 20);

legendBox(974, 64, 1094, 198);
legLine(979, 1017, 97, S.wMain);
svg.append("rect").attr("x", 993.5).attr("y", 92.5).attr("width", 9).attr("height", 9).attr("fill", "#fff").attr("stroke", W_MARK).attr("stroke-width", 3.2);
rich(svg, 1020, 97, [{ t: "W" }, sup("44+")], 20);
legLine(979, 1017, 124, S.bTh0); rich(svg, 1025, 124, [{ t: "th. (0)" }], 20);
legLine(979, 1017, 151, S.bTh1); rich(svg, 1025, 151, [{ t: "th. (1)" }], 20);
legLine(982, 1017, 178, S.bTh2); rich(svg, 1025, 178, [{ t: "th. (2)" }], 20);

legendBox(113, 420, 246, 508);
legLine(120, 158, 446, S.gDth); rich(svg, 162, 446, [{ t: "δ", g: true, r: 1.2 }, sup("th")], 20);
legLine(120, 158, 483, S.gDthN); rich(svg, 162, 483, [{ t: "δ", g: true, r: 1.2 }, sup("th"), { t: "(φ,N)", g: true, r: 1.15 }], 20);
legendBox(248, 447, 327, 508);
legLine(257, 286, 477, S.orange);
rich(svg, 288, 477, [{ t: "δ", g: true, r: 1.2 }, { t: "φ", g: true, r: 0.8, off: 8 }, { t: "C", r: 0.75, off: -12, dx: 3 }], 20);
legendBox(125, 524, 207, 577);
legLine(133, 164, 551, S.orange);
rich(svg, 166, 551, [{ t: "Δ", g: true, r: 1.2 }, { t: "φ", g: true, r: 0.8, off: 8 }, { t: "C", r: 0.75, off: -12, dx: 3 }], 20);
legendBox(126, 629, 348, 674);
legLine(135, 162, 655, S.gDth);
rich(svg, 171, 655, [{ t: "Δ", g: true, r: 1.2 }, sup("th"), { t: "," }], 20);
legLine(223, 253, 655, S.gDthN);
rich(svg, 260, 655, [{ t: "Δ", g: true, r: 1.2 }, sup("th"), { t: "(φ,N)", g: true, r: 1.15 }], 20);

legendBox(668, 416, 792, 507);
legLine(674, 703, 442, S.bDth); rich(svg, 707, 442, [{ t: "δ", g: true, r: 1.2 }, sup("th")], 20);
legLine(674, 703, 477, S.bDthN); rich(svg, 707, 477, [{ t: "δ", g: true, r: 1.2 }, sup("th"), { t: "(φ,N)", g: true, r: 1.15 }], 20);
legendBox(877, 452, 965, 507);
legLine(885, 914, 472, S.orange);
rich(svg, 916, 472, [{ t: "δ", g: true, r: 1.2 }, { t: "φ", g: true, r: 0.8, off: 8 }, { t: "W", r: 0.75, off: -12, dx: 3 }], 20);
legendBox(666, 512, 799, 592);
legLine(674, 700, 538, S.tDth); rich(svg, 711, 538, [{ t: "Δ", g: true, r: 1.2 }, sup("th")], 20);
legLine(674, 700, 573, S.bDthN); rich(svg, 711, 573, [{ t: "Δ", g: true, r: 1.2 }, sup("th"), { t: "(φ,N)", g: true, r: 1.15 }], 20);
legendBox(863, 517, 949, 571);
legLine(869, 898, 546, S.orange);
rich(svg, 902, 546, [{ t: "Δ", g: true, r: 1.2 }, { t: "φ", g: true, r: 0.8, off: 8 }, { t: "W", r: 0.75, off: -12, dx: 3 }], 20);
</script></body></html>
